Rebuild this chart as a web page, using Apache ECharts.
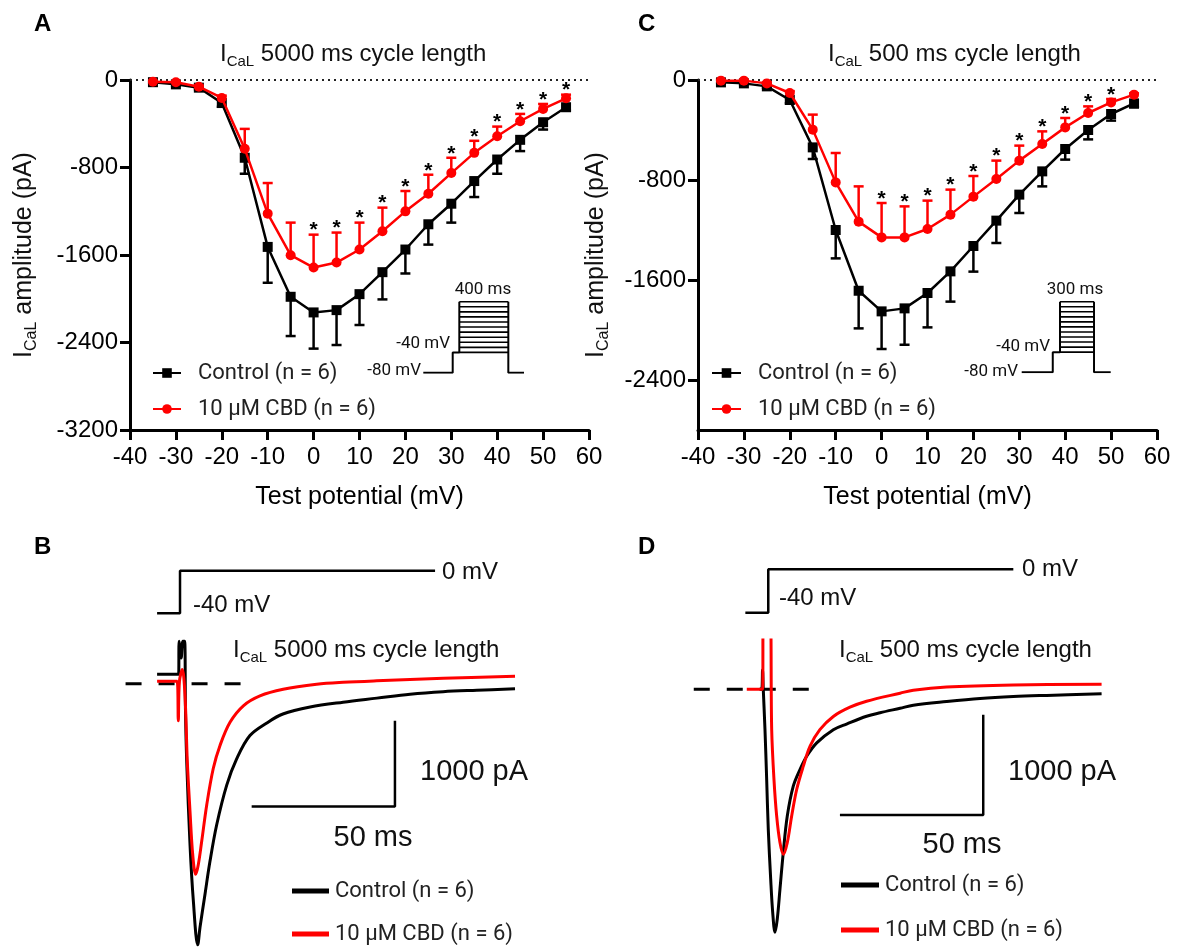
<!DOCTYPE html>
<html><head><meta charset="utf-8">
<script src="https://cdn.jsdelivr.net/npm/echarts@6/dist/echarts.min.js"></script>
<style>html,body{margin:0;padding:0;background:#fff}#c{width:1178px;height:950px}</style>
</head><body><div id="c"></div>
<script>
// ---------- DATA ----------
const voltages = [-35,-30,-25,-20,-15,-10,-5,0,5,10,15,20,25,30,35,40,45,50,55];
// Panel A (5000 ms cycle length)
const ctrlA    = [-20,-40,-70,-210,-711,-1526,-1982,-2125,-2104,-1958,-1757,-1550,-1319,-1131,-924,-727,-547,-386,-249];
const ctrlAerr = [10,10,15,35,146,328,359,331,319,282,249,219,186,173,146,130,103,67,30];
const cbdA     = [-15,-21,-61,-164,-629,-1222,-1602,-1715,-1669,-1550,-1383,-1201,-1040,-851,-666,-514,-377,-264,-167];
const cbdAerr  = [5,5,10,21,182,280,298,301,274,246,216,186,174,140,110,88,67,45,33];
const starsA   = [0,5,10,15,20,25,30,35,40,45,50,55];
// Panel C (500 ms cycle length)
const ctrlC    = [-19,-27,-51,-160,-539,-1200,-1686,-1851,-1827,-1704,-1531,-1328,-1125,-917,-731,-552,-400,-272,-187];
const ctrlCerr = [8,8,12,25,93,227,301,301,291,275,242,205,179,147,120,85,75,53,32];
const cbdC     = [-5,-5,-27,-104,-397,-819,-1133,-1259,-1259,-1192,-1077,-933,-792,-645,-512,-379,-264,-179,-117];
const cbdCerr  = [3,3,8,15,120,235,282,275,248,227,200,165,147,120,101,75,53,27,10];
const starsC   = [0,5,10,15,20,25,30,35,40,45,50];
// axis ticks
const xTicks = [-40,60,10];
const yTicksA = [0,-800,-1600,-2400,-3200];
const yTicksC = [0,-800,-1600,-2400];
// Voltage protocol insets (ms, mV)
const insetA_times = [-240, 0, 54, 454, 582];   // hold, prepulse, test start, test end, end
const insetC_times = [-274, 0, 64, 364, 511];
const holdV = -80, preV = -40;
const testLevels = [-40,-30,-20,-10,0,10,20,30,40,50,60];
// Panel B traces [ms, pA]
const traceB_ctrl = [[-8,110],[-0.5,110],[-0.3,495],[0.4,300],[1.0,495],[1.6,495],[1.9,-300],[2.34,-906],[3.49,-1873],[4.64,-2523],[6.18,-3040],[6.98,-2835],[8.72,-2450],[10.47,-2065],[12.8,-1642],[16.3,-1180],[19.8,-872],[24.4,-603],[30.3,-456],[35.9,-352],[45.4,-271],[56.9,-214],[68.7,-167],[80.3,-121],[91.8,-92],[103.6,-75],[116.9,-58]];
const traceB_cbd  = [[-8,29],[-1,29],[-0.6,-430],[-0.2,29],[0.8,167],[1.74,-141],[2.55,-910],[3.49,-1487],[4.43,-1988],[5.48,-2219],[6.39,-2104],[7.57,-1834],[9.32,-1411],[11.6,-987],[13.96,-718],[17.45,-448],[22.1,-256],[27.9,-141],[36.0,-64],[47.7,-6],[56.9,17],[68.6,35],[91.9,64],[116.9,87]];
const baselineB = [[-19,0],[22,0]];
const scaleBarB = [[75,-430],[75,-1430],[25,-1430]];
const protoB = [[-8,-40],[0,-40],[0,0],[89,0]];
// Panel D traces [ms, pA]
const traceD_ctrl = [[-3,0],[-2.3,0],[-2.0,192],[-1.75,0],[-1.15,-404],[-0.56,-901],[0,-1397],[0.84,-1894],[1.54,-2224],[2.34,-2423],[3.14,-2291],[4.08,-1993],[5.23,-1629],[6.63,-1265],[8.72,-967],[11.06,-801],[13.4,-669],[16.9,-536],[22.7,-404],[27.5,-345],[34.3,-270],[39.0,-235],[46.0,-190],[50.6,-160],[62.2,-123],[73.9,-92],[85.5,-73],[97.1,-62],[116.3,-47]];
const traceD_cbd  = [[-7.5,0],[-2.0,0],[-1.75,800],[0.6,800],[1.19,-404],[1.99,-901],[2.93,-1265],[4.08,-1529],[5.23,-1646],[6.63,-1529],[8.16,-1265],[9.91,-1000],[12.2,-770],[14.55,-570],[18.0,-404],[22.7,-272],[28.5,-180],[34.3,-120],[46.0,-40],[50.6,-10],[62.2,22],[85.5,42],[116.3,50]];
const baselineD = [[-26,0],[15,0]];
const scaleBarD = [[75,-255],[75,-1255],[25,-1255]];
const protoD = [[-8,-40],[0,-40],[0,0],[85.5,0]];

const nameCtrl = 'Control (n = 6)';
const nameCbd = '10 μM CBD (n = 6)';

// ---------- BUILD ----------
const FONT = '"Liberation Sans", Arial, sans-serif';
const LEG = 'Roboto, "Noto Sans", sans-serif';
const RED = '#ff0000';

const chart = echarts.init(document.getElementById('c'), null, {renderer:'canvas', width:1178, height:950});

function zip(xs, ys){ return xs.map((x,i)=>[x, ys[i]]); }
function zip3(xs, ys, es){ return xs.map((x,i)=>[x, ys[i], es[i]]); }

function errRender(dir, color){
  return function(params, api){
    const x = api.value(0), y = api.value(1), e = api.value(2);
    const p0 = api.coord([x, y]);
    const p1 = api.coord([x, y + dir*e]);
    const hw = 5;
    return {type:'group', children:[
      {type:'line', shape:{x1:p0[0], y1:p0[1], x2:p1[0], y2:p1[1]}, style:{stroke:color, lineWidth:2.5}},
      {type:'line', shape:{x1:p1[0]-hw, y1:p1[1], x2:p1[0]+hw, y2:p1[1]}, style:{stroke:color, lineWidth:2.5}}
    ]};
  };
}
function starRender(params, api){
  const p = api.coord([api.value(0), api.value(1)]);
  return {type:'text', x:p[0], y:p[1]-4, style:{text:'*', fill:'#000', font:'bold 21px '+FONT, align:'center', verticalAlign:'middle'}};
}
function starData(vs, stars, errs){
  return stars.map(v=>{ const i = voltages.indexOf(v); return [v, vs[i] + errs[i]]; });
}

const rich = (main, sub) => ({
  a:{fontSize:main, fontFamily:FONT, fontWeight:'normal', color:'#111', lineHeight:Math.round(main*1.25)},
  b:{fontSize:sub, fontFamily:FONT, fontWeight:'normal', color:'#111', lineHeight:sub, verticalAlign:'bottom'}
});

const axisLineStyle = {show:true, onZero:false, lineStyle:{color:'#000', width:3}};
const axisTickStyle = {show:true, length:10, lineStyle:{color:'#000', width:3}};

function mainX(grid){
  return {gridIndex:grid, type:'value', min:xTicks[0], max:xTicks[1], interval:xTicks[2],
    axisLine:axisLineStyle, axisTick:axisTickStyle, splitLine:{show:false},
    axisLabel:{fontSize:24, color:'#000', fontFamily:FONT, margin:15, formatter:v=>String(v)},
    name:'Test potential (mV)', nameLocation:'middle', nameGap:55,
    nameTextStyle:{fontSize:25, color:'#000', fontFamily:FONT}};
}
function mainY(grid, ticks, min, gap){
  return {gridIndex:grid, type:'value', min:min, max:0,
    axisLine:axisLineStyle,
    axisTick:Object.assign({customValues:ticks}, axisTickStyle),
    splitLine:{show:false},
    axisLabel:{fontSize:24, color:'#000', fontFamily:FONT, margin:12, customValues:ticks, formatter:v=>String(v)},
    name:'{a|I}{b|CaL}{a| amplitude (pA)}', nameLocation:'middle', nameGap:gap, nameRotate:90,
    nameTextStyle:{fontWeight:'normal', rich:rich(25,16)}};
}
function hidden(grid, min, max){ return {gridIndex:grid, type:'value', min:min, max:max, show:false}; }

function ivSeries(ax, ctrl, ctrlErr, cbd, cbdErr, stars){
  return [
    {type:'custom', name:'ctrlErr'+ax, xAxisIndex:ax, yAxisIndex:ax, renderItem:errRender(-1,'#000'),
      data:zip3(voltages, ctrl, ctrlErr), encode:{x:0,y:1}, z:2, silent:true},
    {type:'line', name:nameCtrl, xAxisIndex:ax, yAxisIndex:ax, data:zip(voltages, ctrl),
      symbol:'rect', symbolSize:10, lineStyle:{color:'#000', width:2.5}, itemStyle:{color:'#000'}, z:3,
      markLine:{silent:true, symbol:['none','none'], label:{show:false}, animation:false,
        lineStyle:{color:'#222', type:[2,4], width:2}, data:[{yAxis:0}]}},
    {type:'custom', name:'cbdErr'+ax, xAxisIndex:ax, yAxisIndex:ax, renderItem:errRender(1,RED),
      data:zip3(voltages, cbd, cbdErr), encode:{x:0,y:1}, z:4, silent:true},
    {type:'line', name:nameCbd, xAxisIndex:ax, yAxisIndex:ax, data:zip(voltages, cbd),
      symbol:'circle', symbolSize:10, lineStyle:{color:RED, width:2.5}, itemStyle:{color:RED}, z:5},
    {type:'custom', name:'stars'+ax, xAxisIndex:ax, yAxisIndex:ax, renderItem:starRender,
      data:starData(cbd, stars, cbdErr), encode:{x:0,y:1}, z:6, silent:true}
  ];
}

function lineS(ax, data, color, width, extra){
  return Object.assign({type:'line', xAxisIndex:ax, yAxisIndex:ax, data:data, symbol:'none', silent:true,
    lineStyle:{color:color, width:width}, itemStyle:{color:color}}, extra||{});
}

function insetSeries(ax, times){
  const [t0,t1,t2,t3,t4] = times;
  const s = [];
  s.push(lineS(ax, [[t0,holdV],[t1,holdV],[t1,preV],[t2,preV],[t2,testLevels[testLevels.length-1]]], '#000', 2, {name:'insetOutline'+ax}));
  s.push(lineS(ax, [[t3,testLevels[testLevels.length-1]],[t3,holdV],[t4,holdV]], '#000', 2, {name:'insetOut2'+ax}));
  testLevels.forEach((v,i)=> s.push(lineS(ax, [[t2,v],[t3,v]], '#000', 1.6, {name:'step'+ax+'_'+i})));
  return s;
}

function traceSeries(ax, vax, ctrl, cbd, base, bar, proto){
  return [
    lineS(ax, base, '#000', 3, {name:'base'+ax, lineStyle:{color:'#000', width:3, type:[16,17]}}),
    lineS(ax, ctrl, '#000', 3, {name:nameCtrl, smooth:0.35, z:3}),
    lineS(ax, cbd, RED, 3, {name:nameCbd, smooth:0.35, z:4}),
    lineS(ax, bar, '#000', 2.5, {name:'bar'+ax}),
    lineS(vax, proto, '#000', 2.5, {name:'proto'+vax})
  ];
}

const titleText = (txt, left, top) => ({text:'{a|I}{b|CaL}{a| '+txt+'}', left:left, top:top, padding:0,
  textStyle:{fontWeight:'normal', rich:rich(24,15)}});
const letter = (t, left, top) => ({text:t, left:left, top:top, padding:0, textStyle:{fontSize:24, fontWeight:'bold', fontFamily:FONT, color:'#000'}});

function txt(x, y, s, size, align, family){
  return {type:'text', x:x, y:y, silent:true, style:{text:s, fill:'#111', font:size+'px '+(family||FONT), align:align||'left', verticalAlign:'middle'}};
}

const legendText = {fontSize:22, fontFamily:LEG, color:'#222', lineHeight:22};

const option = {
  animation:false,
  backgroundColor:'#fff',
  textStyle:{fontFamily:FONT},
  grid:[
    {left:130, top:80, width:459, height:350},
    {left:698, top:80, width:459, height:350},
    {left:423.3, top:301.7, width:100.7, height:71},
    {left:1021.7, top:301.7, width:89, height:70.6},
    {left:122.7, top:597.9, width:401.2, height:355.1},
    {left:122.7, top:560, width:401.2, height:63.9},
    {left:682.3, top:640, width:429.9, height:311.2},
    {left:682.3, top:558.4, width:429.9, height:65.1}
  ],
  xAxis:[ mainX(0), mainX(1),
    hidden(2, insetA_times[0], insetA_times[4]), hidden(3, insetC_times[0], insetC_times[4]),
    hidden(4,-20,120), hidden(5,-20,120), hidden(6,-30,120), hidden(7,-30,120)],
  yAxis:[ mainY(0, yTicksA, -3200, 90), mainY(1, yTicksC, -2800, 86),
    hidden(2,-80,60), hidden(3,-80,60), hidden(4,-3100,1000), hidden(5,-50,10), hidden(6,-2600,490), hidden(7,-50,10)],
  title:[
    letter('A', 34, 12), letter('C', 638, 12), letter('B', 34, 535), letter('D', 638, 535),
    titleText('5000 ms cycle length', 220, 39), titleText('500 ms cycle length', 828, 39),
    titleText('5000 ms cycle length', 233, 635), titleText('500 ms cycle length', 839, 635)
  ],
  legend:[
    {left:152, top:362, padding:0, orient:'vertical', itemWidth:28, itemHeight:12, itemGap:14, selectedMode:false,
      data:[nameCtrl, nameCbd], textStyle:Object.assign({padding:[0,0,0,12]}, legendText)},
    {left:711, top:362, padding:0, orient:'vertical', itemWidth:29, itemHeight:12, itemGap:14, selectedMode:false,
      data:[nameCtrl, nameCbd], textStyle:Object.assign({padding:[0,0,0,12]}, legendText)},
    {left:292, top:880, padding:0, height:80, orient:'vertical', itemWidth:37, itemHeight:5, itemGap:21, selectedMode:false,
      data:[{name:nameCtrl, icon:'rect'}, {name:nameCbd, icon:'rect'}], textStyle:Object.assign({padding:[0,0,0,1]}, legendText)},
    {left:841, top:874, padding:0, height:80, orient:'vertical', itemWidth:38, itemHeight:5, itemGap:23, selectedMode:false,
      data:[{name:nameCtrl, icon:'rect'}, {name:nameCbd, icon:'rect'}], textStyle:Object.assign({padding:[0,0,0,1]}, legendText)}
  ],
  graphic:[
    txt(483, 290, '400 ms', 17, 'center', LEG), txt(450, 344, '-40 mV', 17, 'right', LEG), txt(421, 371, '-80 mV', 17, 'right', LEG),
    txt(1075, 290, '300 ms', 17, 'center', LEG), txt(1050, 347, '-40 mV', 17, 'right', LEG), txt(1018, 372, '-80 mV', 17, 'right', LEG),
    txt(442, 572, '0 mV', 24), txt(193, 605, '-40 mV', 24), txt(420, 772, '1000 pA', 29), txt(373, 838, '50 ms', 29, 'center'),
    txt(1022, 569, '0 mV', 24), txt(779, 598, '-40 mV', 24), txt(1008, 772, '1000 pA', 29), txt(962, 845, '50 ms', 29, 'center')
  ],
  series:[].concat(
    ivSeries(0, ctrlA, ctrlAerr, cbdA, cbdAerr, starsA),
    ivSeries(1, ctrlC, ctrlCerr, cbdC, cbdCerr, starsC),
    insetSeries(2, insetA_times),
    insetSeries(3, insetC_times),
    traceSeries(4, 5, traceB_ctrl, traceB_cbd, baselineB, scaleBarB, protoB),
    traceSeries(6, 7, traceD_ctrl, traceD_cbd, baselineD, scaleBarD, protoD)
  )
};
chart.setOption(option);
</script>
</body></html>
